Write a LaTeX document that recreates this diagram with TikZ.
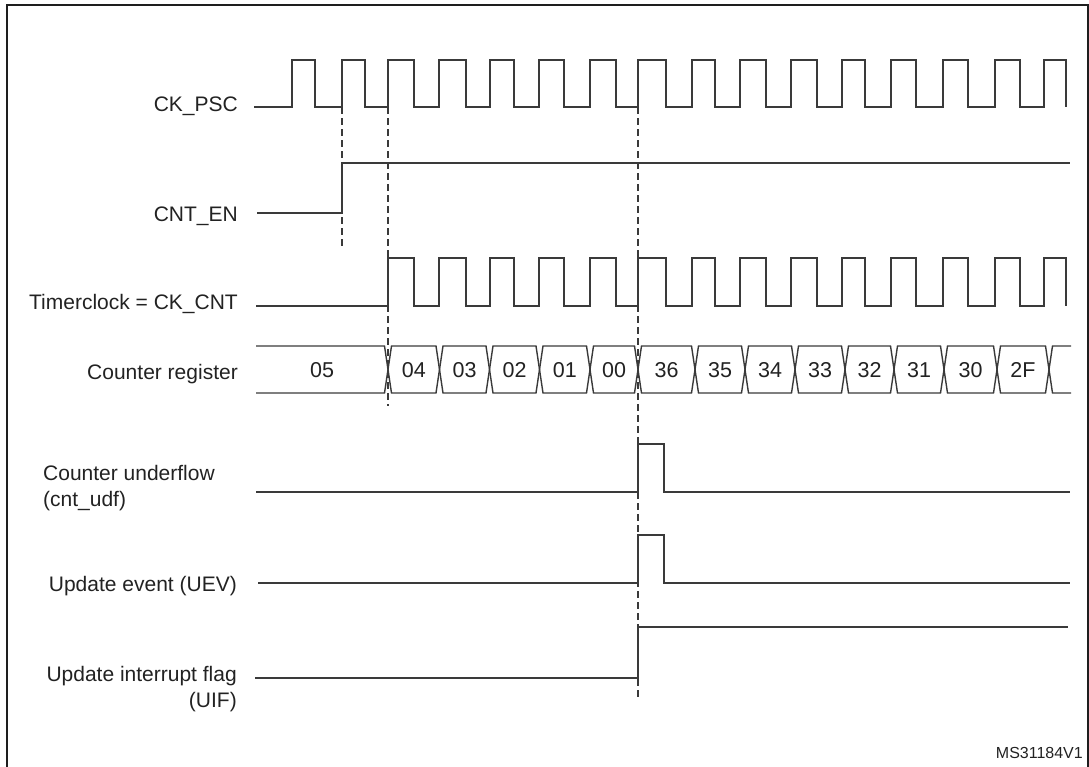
\documentclass[tikz,border=0pt]{standalone}
\usepackage{fontspec}
\setmainfont{Liberation Sans}
\definecolor{sigcol}{HTML}{3A3A3A}
\definecolor{txtcol}{HTML}{222222}
\definecolor{framecol}{HTML}{1E1E1E}
\begin{document}
\begin{tikzpicture}[x=1pt,y=-1pt,
  sig/.style={line width=1.4pt, draw=sigcol, line join=miter},
  guide/.style={line width=1.3pt, draw=sigcol, dash pattern=on 6.5pt off 4.5pt},
  lbl/.style={font=\fontsize{21}{26}\selectfont, text=txtcol, inner sep=0pt},
  val/.style={font=\fontsize{21.5}{26}\selectfont, text=txtcol, inner sep=0pt},
  tag/.style={font=\fontsize{16}{19}\selectfont, text=txtcol, inner sep=0pt},
  frame/.style={line width=2pt, draw=framecol}]
\useasboundingbox (0,0) rectangle (1089,766);

% frame
\draw[frame] (7,780) -- (7,5) -- (1087.5,5) -- (1087.5,780);

% guide lines
\coordinate (g1t) at (342,107); \coordinate (g1b) at (342,249);
\coordinate (g2t) at (388,107); \coordinate (g2b) at (388,406);
\coordinate (g3t) at (638,107); \coordinate (g3b) at (638,698);
\draw[guide] (g1t) -- (g1b);
\draw[guide] (g2t) -- (g2b);
\draw[guide] (g3t) -- (g3b);

% labels
\node[lbl, anchor=base east] (lpsc) at (238,111) {CK\_PSC};
\node[lbl, anchor=base east] (len) at (238,221) {CNT\_EN};
\node[lbl, anchor=base east] (ltc) at (238,309) {Timerclock = CK\_CNT};
\node[lbl, anchor=base east] (lcr) at (238,379) {Counter register};
\node[lbl, anchor=base west] (ludf1) at (43,480) {Counter underflow};
\node[lbl, anchor=base west] (ludf2) at (43,506) {(cnt\_udf)};
\node[lbl, anchor=base east] (luev) at (237,591) {Update event (UEV)};
\node[lbl, anchor=base east] (luif1) at (237,681) {Update interrupt flag};
\node[lbl, anchor=base east] (luif2) at (237,707) {(UIF)};
\node[tag, anchor=base east] (ms) at (1083,758) {MS31184V1};

% CK_PSC
\draw[sig] (254,107)
  foreach \r/\f in {292/315,342/365,388/414,439/466,490/514,539/564,590/616,638/666,692/715,740/766,791/817,842/865,891/916,943/968,995/1020,1044/1066}
  { -- (\r,107) -- (\r,60) -- (\f,60) -- (\f,107) };

% CNT_EN
\draw[sig] (257,213) -- (342,213) -- (342,163) -- (1070,163);

% Timerclock
\draw[sig] (256,306)
  foreach \r/\f in {388/414,439/466,490/514,539/564,590/616,638/666,692/715,740/766,791/817,842/865,891/916,943/968,995/1020,1044/1066}
  { -- (\r,306) -- (\r,258) -- (\f,258) -- (\f,306) };

% Counter register
\def\h{3.5}
\draw[sig] (256,346) -- (388-\h,346) -- (388,369.5) -- (388-\h,393) -- (256,393);
\foreach \a/\b/\v [count=\i] in {388/439.5/04,439.5/489.5/03,489.5/539.5/02,539.5/590/01,590/638/00,638/695/36,695/745/35,745/795/34,795/845/33,845/894/32,894/944/31,944/997/30,997/1049/2F}{
  \draw[sig] (\a,369.5) -- (\a+\h,346) -- (\b-\h,346) -- (\b,369.5) -- (\b-\h,393) -- (\a+\h,393) -- cycle;
  \node[val] (cell\i) at ({(\a+\b)/2},370) {\v};
}
\node[val] (cell0) at (322,370) {05};
\draw[sig] (1071,346) -- (1049+\h,346) -- (1049,369.5) -- (1049+\h,393) -- (1071,393);

% Counter underflow
\draw[sig] (256,492) -- (638,492) -- (638,444) -- (664,444) -- (664,492) -- (1070,492);
% UEV
\draw[sig] (258,583) -- (638,583) -- (638,535) -- (664,535) -- (664,583) -- (1070,583);
% UIF
\draw[sig] (255,678) -- (638,678) -- (638,627) -- (1068,627);
\end{tikzpicture}
\end{document}
